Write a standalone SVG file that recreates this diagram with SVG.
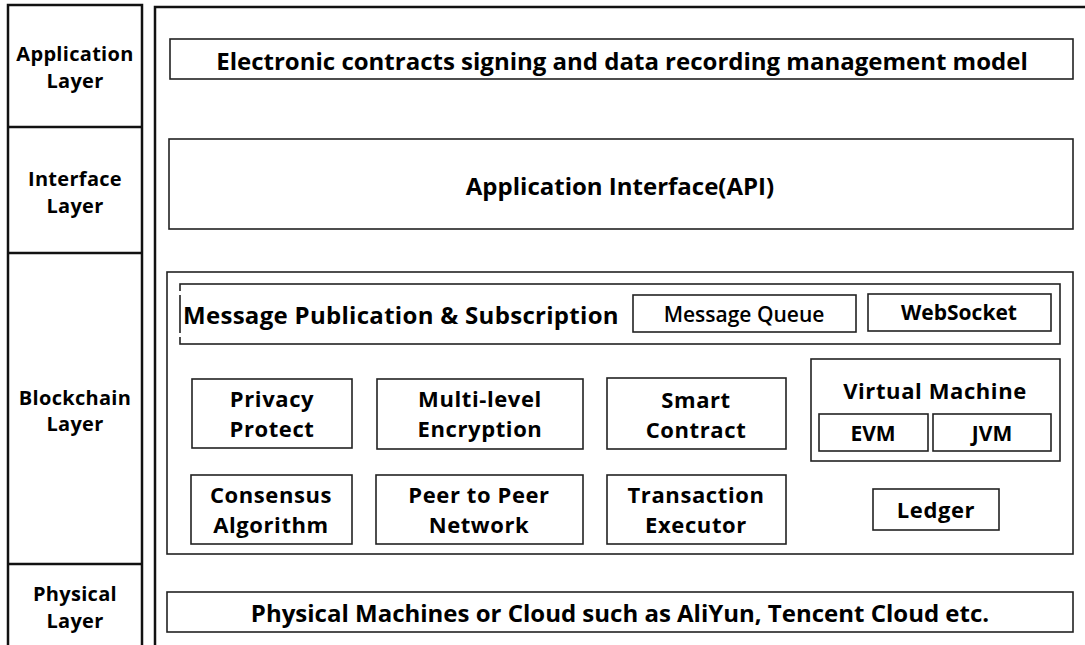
<svg xmlns="http://www.w3.org/2000/svg" width="1085" height="645" viewBox="0 0 1085 645">
  <style>
    .frame { fill: none; stroke: #111; stroke-width: 2.5; }
    .box { fill: #fff; stroke: #222; stroke-width: 1.6; }
    .t { font-family: "Open Sans", "Noto Sans", "Liberation Sans", sans-serif; font-weight: 700; fill: #000; text-anchor: middle; dominant-baseline: central; }
    .lbl { font-size: 20px; letter-spacing: 0.3px; }
    .big { font-size: 24px; }
    .mid { font-size: 22px; letter-spacing: 0.6px; }
    .sm { font-size: 21px; }
  </style>

  <rect width="1085" height="645" fill="#fff"/>

  <!-- layer label column -->
  <g id="layer-column">
    <path class="frame" d="M8 645 V5 H142 V645 M8 127 H142 M8 253 H142 M8 564 H142"/>
  </g>

  <!-- main panel frame -->
  <g id="main-frame">
    <path class="frame" d="M155 645 V7 H1085"/>
  </g>

  <g id="label-application">
    <text class="t lbl" x="75" y="53">Application</text>
    <text class="t lbl" x="75" y="80">Layer</text>
  </g>
  <g id="label-interface">
    <text class="t lbl" x="75" y="178">Interface</text>
    <text class="t lbl" x="75" y="205">Layer</text>
  </g>
  <g id="label-blockchain">
    <text class="t lbl" x="75" y="397">Blockchain</text>
    <text class="t lbl" x="75" y="423">Layer</text>
  </g>
  <g id="label-physical">
    <text class="t lbl" x="75" y="593">Physical</text>
    <text class="t lbl" x="75" y="620">Layer</text>
  </g>

  <!-- application layer -->
  <g id="app-model">
    <rect class="box" x="170" y="39" width="903" height="40"/>
    <text class="t big" x="622" y="60">Electronic contracts signing and data recording management model</text>
  </g>

  <!-- interface layer -->
  <g id="api">
    <rect class="box" x="169" y="139" width="904" height="90"/>
    <text class="t big" x="620" y="185">Application Interface(API)</text>
  </g>

  <!-- blockchain layer -->
  <g id="blockchain">
    <rect class="box" x="167" y="272" width="906" height="282"/>
  </g>

  <g id="message-pubsub">
    <rect class="box" x="180" y="284" width="880" height="60"/>
    <path d="M180 291 V295 M180 333 V337" stroke="#fff" stroke-width="2.5"/>
    <text class="t big" x="183" y="314" style="text-anchor:start;letter-spacing:0.3px">Message Publication &amp; Subscription</text>
  </g>
  <g id="message-queue">
    <rect class="box" x="633" y="295" width="223" height="37"/>
    <text class="t sm" x="744" y="314" style="font-weight:600">Message Queue</text>
  </g>
  <g id="websocket">
    <rect class="box" x="868" y="294" width="183" height="37"/>
    <text class="t sm" x="959" y="312">WebSocket</text>
  </g>

  <g id="privacy-protect">
    <rect class="box" x="192" y="379" width="160" height="69"/>
    <text class="t mid" x="272" y="398">Privacy</text>
    <text class="t mid" x="272" y="428">Protect</text>
  </g>
  <g id="multi-level-encryption">
    <rect class="box" x="377" y="379" width="206" height="70"/>
    <text class="t mid" x="480" y="398">Multi-level</text>
    <text class="t mid" x="480" y="428">Encryption</text>
  </g>
  <g id="smart-contract">
    <rect class="box" x="607" y="378" width="179" height="71"/>
    <text class="t mid" x="696" y="399">Smart</text>
    <text class="t mid" x="696" y="429">Contract</text>
  </g>

  <g id="virtual-machine">
    <rect class="box" x="811" y="359" width="249" height="102"/>
    <text class="t mid" x="935" y="390">Virtual Machine</text>
  </g>
  <g id="evm">
    <rect class="box" x="819" y="414" width="109" height="37"/>
    <text class="t sm" x="873" y="433">EVM</text>
  </g>
  <g id="jvm">
    <rect class="box" x="933" y="414" width="118" height="37"/>
    <text class="t sm" x="992" y="433">JVM</text>
  </g>

  <g id="consensus-algorithm">
    <rect class="box" x="191" y="475" width="161" height="69"/>
    <text class="t mid" x="271" y="494">Consensus</text>
    <text class="t mid" x="271" y="524">Algorithm</text>
  </g>
  <g id="peer-to-peer">
    <rect class="box" x="376" y="475" width="207" height="69"/>
    <text class="t mid" x="479" y="494">Peer to Peer</text>
    <text class="t mid" x="479" y="524">Network</text>
  </g>
  <g id="transaction-executor">
    <rect class="box" x="607" y="475" width="179" height="69"/>
    <text class="t mid" x="696" y="494">Transaction</text>
    <text class="t mid" x="696" y="524">Executor</text>
  </g>
  <g id="ledger">
    <rect class="box" x="873" y="489" width="126" height="41"/>
    <text class="t mid" x="936" y="509">Ledger</text>
  </g>

  <!-- physical layer -->
  <g id="physical">
    <rect class="box" x="167" y="592" width="906" height="40"/>
    <text class="t big" x="620" y="612">Physical Machines or Cloud such as AliYun, Tencent Cloud etc.</text>
  </g>
</svg>
